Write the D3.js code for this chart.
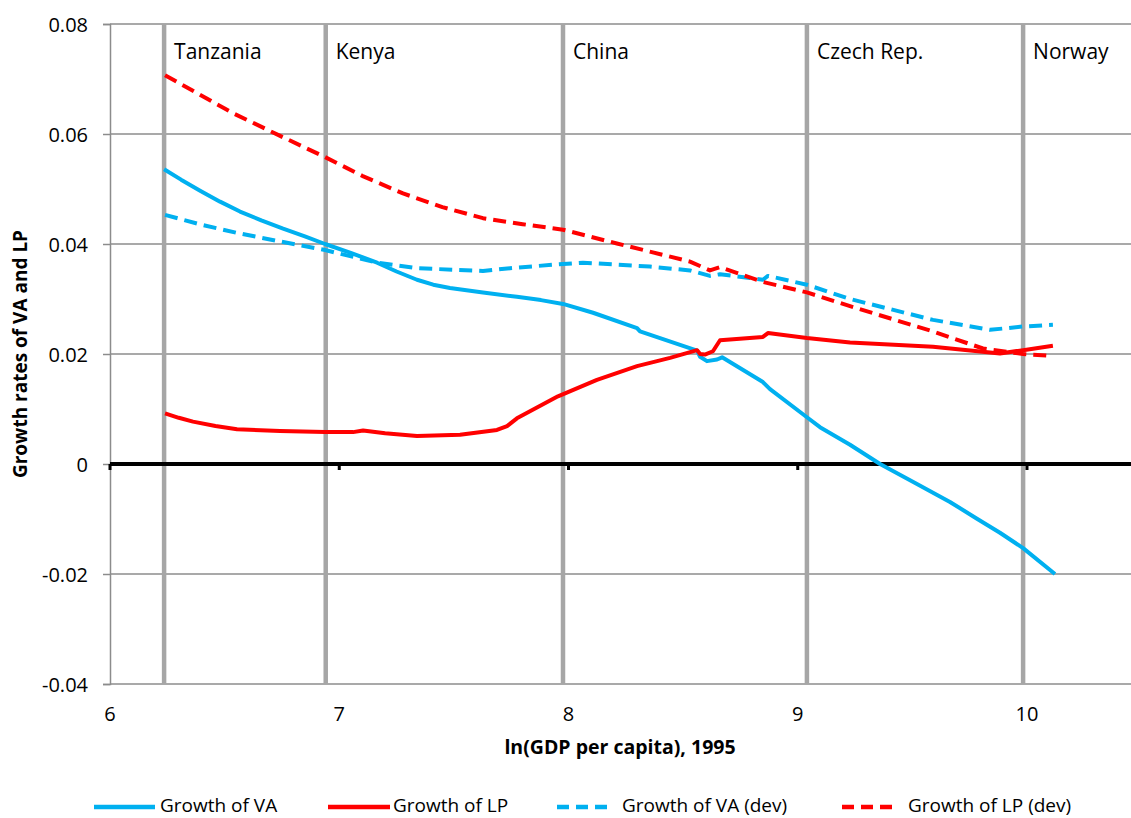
<!DOCTYPE html>
<html>
<head>
<meta charset="utf-8">
<script src="https://cdn.jsdelivr.net/npm/d3@7"></script>
<style>
  html, body { margin: 0; padding: 0; background: #fff; }
  svg { display: block; font-family: "Open Sans", Lato, sans-serif; }
</style>
</head>
<body>
<svg id="chart" width="1131" height="818"></svg>
<script>
// ---------- DATA ----------
const xTicks = [6, 7, 8, 9, 10];
const yTicks = [0.08, 0.06, 0.04, 0.02, 0, -0.02, -0.04];
const yTickLabels = ["0.08", "0.06", "0.04", "0.02", "0", "-0.02", "-0.04"];

const countries = ["Tanzania", "Kenya", "China", "Czech Rep.", "Norway"];
const countryX = [6.236, 6.941, 7.976, 9.040, 9.983];

const seriesNames = ["Growth of VA", "Growth of LP", "Growth of VA (dev)", "Growth of LP (dev)"];

const growthVA = [
  [6.236, 0.0536], [6.310, 0.0517], [6.393, 0.0497], [6.480, 0.0477], [6.567, 0.0459],
  [6.660, 0.0443], [6.755, 0.0428], [6.850, 0.0414], [6.938, 0.0400], [7.050, 0.0384],
  [7.165, 0.0366], [7.250, 0.0350], [7.339, 0.0335], [7.410, 0.0326], [7.483, 0.0320],
  [7.627, 0.0312], [7.775, 0.0304], [7.880, 0.0298], [7.976, 0.0291], [8.107, 0.0275],
  [8.299, 0.0247], [8.312, 0.0241], [8.561, 0.0206], [8.574, 0.0195], [8.604, 0.0187],
  [8.648, 0.0190], [8.670, 0.0194], [8.848, 0.0149], [8.879, 0.0136], [9.040, 0.0085],
  [9.097, 0.0067], [9.228, 0.0035], [9.359, 0.0000], [9.510, -0.0034], [9.664, -0.0069],
  [9.780, -0.0099], [9.882, -0.0125], [9.983, -0.0153], [10.122, -0.0200]
];

const growthLP = [
  [6.240, 0.0092], [6.300, 0.0084], [6.362, 0.0077], [6.460, 0.0069], [6.554, 0.0063],
  [6.742, 0.0060], [6.938, 0.0058], [7.060, 0.0058], [7.104, 0.0061], [7.200, 0.0056],
  [7.339, 0.0051], [7.527, 0.0053], [7.688, 0.0062], [7.732, 0.0069], [7.775, 0.0083],
  [7.954, 0.0123], [8.124, 0.0153], [8.299, 0.0178], [8.443, 0.0193], [8.561, 0.0207],
  [8.574, 0.0200], [8.595, 0.0199], [8.630, 0.0205], [8.661, 0.0225], [8.848, 0.0231],
  [8.870, 0.0238], [9.040, 0.0229], [9.228, 0.0221], [9.590, 0.0213], [9.882, 0.0201],
  [9.983, 0.0207], [10.113, 0.0215]
];

const growthVAdev = [
  [6.240, 0.0453], [6.400, 0.0435], [6.567, 0.0419], [6.750, 0.0404], [6.938, 0.0389],
  [7.165, 0.0366], [7.339, 0.0356], [7.627, 0.0351], [7.745, 0.0356], [7.954, 0.0363],
  [8.063, 0.0366], [8.355, 0.0359], [8.530, 0.0352], [8.617, 0.0342], [8.661, 0.0345],
  [8.792, 0.0338], [8.848, 0.0335], [8.870, 0.0342], [9.040, 0.0326], [9.228, 0.0300],
  [9.590, 0.0262], [9.839, 0.0244], [9.913, 0.0247], [9.983, 0.0250], [10.113, 0.0253]
];

const growthLPdev = [
  [6.240, 0.0707], [6.390, 0.0672], [6.536, 0.0638], [6.740, 0.0597], [6.938, 0.0558],
  [7.100, 0.0524], [7.278, 0.0492], [7.450, 0.0467], [7.627, 0.0447], [7.800, 0.0436],
  [7.976, 0.0426], [8.211, 0.0401], [8.530, 0.0368], [8.617, 0.0352], [8.661, 0.0358],
  [8.848, 0.0331], [9.040, 0.0312], [9.228, 0.0287], [9.590, 0.0241], [9.808, 0.0210],
  [9.983, 0.0200], [10.088, 0.0197]
];

// ---------- LAYOUT ----------
const svg = d3.select("#chart");
const plotLeft = 110, plotTop = 24, plotBottom = 684;
const pxPerUnit = 229.25;
const x = d3.scaleLinear().domain([6, 10.5]).range([plotLeft, plotLeft + 4.5 * pxPerUnit]);
const y = d3.scaleLinear().domain([-0.04, 0.08]).range([plotBottom, plotTop]);
const rightEdge = 1131;

const gridColor = "#8c8c8c";
const blue = "#00B0F0", red = "#FF0000";
const font = "'Open Sans', Lato, sans-serif";

// horizontal gridlines
svg.append("g").selectAll("line").data(yTicks.filter(d => d !== 0)).join("line")
  .attr("x1", plotLeft).attr("x2", rightEdge)
  .attr("y1", d => y(d)).attr("y2", d => y(d))
  .attr("stroke", gridColor).attr("stroke-width", 1.5);

// y axis ticks and labels
const yAxis = d3.axisLeft(y).tickValues(yTicks).tickSize(7)
  .tickFormat((d, i) => yTickLabels[i]);
const gy = svg.append("g").attr("transform", `translate(${plotLeft},0)`).call(yAxis);
gy.select(".domain").attr("stroke", gridColor).attr("stroke-width", 1.5);
gy.selectAll(".tick line").attr("stroke", gridColor).attr("stroke-width", 1.5);
gy.selectAll(".tick text").attr("x", -22).attr("dy", "0.36em")
  .attr("font-size", 20).attr("fill", "#000").attr("font-family", font);

// x tick labels (bottom)
svg.append("g").selectAll("text").data(xTicks).join("text")
  .attr("x", d => x(d)).attr("y", 721)
  .attr("text-anchor", "middle").attr("font-size", 20).attr("fill", "#000")
  .attr("font-family", font)
  .text(d => d);

// country vertical lines
svg.append("g").selectAll("line").data(countryX).join("line")
  .attr("x1", d => x(d)).attr("x2", d => x(d))
  .attr("y1", plotTop).attr("y2", plotBottom)
  .attr("stroke", "#A6A6A6").attr("stroke-width", 4.5);

// country labels
svg.append("g").selectAll("text").data(countries).join("text")
  .attr("x", (d, i) => x(countryX[i]) + 10).attr("y", 59)
  .attr("font-size", 21).attr("fill", "#000").attr("font-family", font)
  .text(d => d);

// zero line with ticks
svg.append("line").attr("x1", plotLeft).attr("x2", rightEdge)
  .attr("y1", y(0)).attr("y2", y(0)).attr("stroke", "#000").attr("stroke-width", 4);
svg.append("g").selectAll("line").data(xTicks).join("line")
  .attr("x1", d => x(d)).attr("x2", d => x(d))
  .attr("y1", y(0)).attr("y2", y(0) + 6)
  .attr("stroke", "#000").attr("stroke-width", 3);

// series lines
const line = d3.line().x(d => x(d[0])).y(d => y(d[1])).curve(d3.curveLinear);
const series = [
  { data: growthVA, color: blue, dash: null },
  { data: growthLP, color: red, dash: null },
  { data: growthVAdev, color: blue, dash: "13,7" },
  { data: growthLPdev, color: red, dash: "13,7" }
];
series.forEach(s => {
  svg.append("path").datum(s.data)
    .attr("d", line).attr("fill", "none")
    .attr("stroke", s.color).attr("stroke-width", 4)
    .attr("stroke-linejoin", "round")
    .attr("stroke-dasharray", s.dash);
});

// axis titles
svg.append("text").attr("x", 620).attr("y", 754)
  .attr("text-anchor", "middle").attr("font-size", 19.5).attr("font-weight", "bold")
  .attr("font-family", font)
  .attr("fill", "#000").text("ln(GDP per capita), 1995");
svg.append("text")
  .attr("transform", "translate(27,354) rotate(-90)")
  .attr("text-anchor", "middle").attr("font-size", 19).attr("font-weight", "bold")
  .attr("font-family", font)
  .attr("fill", "#000").text("Growth rates of VA and LP");

// legend
const legendLine = [[94, 155], [328, 390], [557, 607], [842, 892]];
const legendText = [160, 393, 622, 908];
const lg = svg.append("g");
series.forEach((s, i) => {
  lg.append("line").attr("x1", legendLine[i][0]).attr("x2", legendLine[i][1])
    .attr("y1", 807).attr("y2", 807)
    .attr("stroke", s.color).attr("stroke-width", 4.5)
    .attr("stroke-dasharray", s.dash ? "12,7" : null);
  lg.append("text").attr("x", legendText[i]).attr("y", 812)
    .attr("font-size", 19).attr("fill", "#000").attr("font-family", font)
    .text(seriesNames[i]);
});
</script>
</body>
</html>
